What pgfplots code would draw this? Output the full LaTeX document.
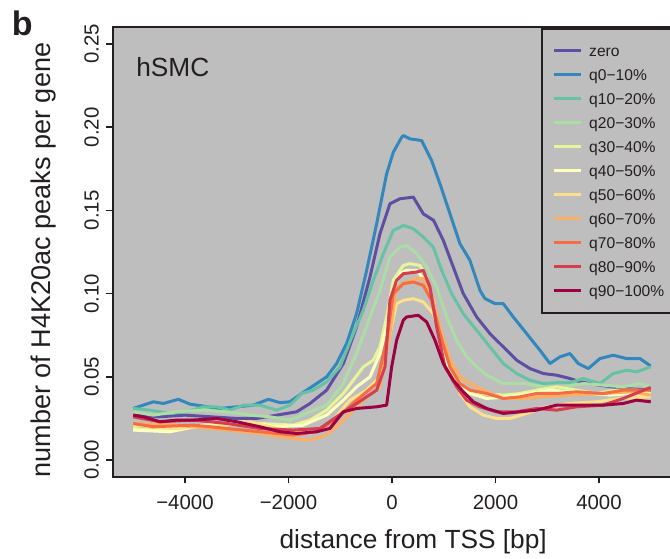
\documentclass[border=0pt]{standalone}
\usepackage{fontspec}
\setmainfont{Liberation Sans}
\usepackage{pgfplots}
\pgfplotsset{compat=1.18}
\definecolor{bg}{HTML}{BEBEBE}
\definecolor{ink}{HTML}{231F20}
\definecolor{s1}{HTML}{5E4FA2}
\definecolor{s2}{HTML}{3288BD}
\definecolor{s3}{HTML}{66C2A5}
\definecolor{s4}{HTML}{ABDDA4}
\definecolor{s5}{HTML}{E6F598}
\definecolor{s6}{HTML}{FFFFBF}
\definecolor{s7}{HTML}{FEE08B}
\definecolor{s8}{HTML}{FDAE61}
\definecolor{s9}{HTML}{F46D43}
\definecolor{s10}{HTML}{D53E4F}
\definecolor{s11}{HTML}{9E0142}
\begin{document}
\begin{tikzpicture}
\begin{axis}[
  at={(0pt,0pt)}, anchor=south west,
  scale only axis, width=419.2pt, height=337pt,
  xmin=-5400, xmax=5400, ymin=-0.01, ymax=0.26,
  axis background/.style={fill=bg},
  axis line style={line width=1.5pt, draw=ink},
  tick align=outside, xtick pos=bottom, ytick pos=left,
  major tick length=5pt,
  tick style={line width=1.2pt, draw=ink},
  xtick={-4000,-2000,0,2000,4000},
  xticklabels={−4000,−2000,0,2000,4000},
  ytick={0,0.05,0.1,0.15,0.2,0.25},
  yticklabels={0.00,0.05,0.10,0.15,0.20,0.25},
  ticklabel style={font=\fontsize{15.3}{16}\selectfont, text=ink, inner sep=0pt},
  xticklabel style={anchor=base},
  yticklabel style={rotate=90, anchor=base},
  xticklabel shift=19.5pt, yticklabel shift=5.5pt,
  xlabel={distance from TSS [bp]},
  ylabel={number of H4K20ac peaks per gene},
  label style={text=ink, inner sep=0pt},
  xlabel style={font=\fontsize{19.7}{20}\selectfont, at={(axis description cs:0.538,-0.1596)}, anchor=base},
  ylabel style={font=\fontsize{20.3}{21}\selectfont, at={(axis description cs:-0.1118,0.482)}, anchor=base},
  legend style={at={(axis description cs:0.7665,0.9985)}, anchor=north west,
    fill=bg, draw=ink, line width=1.5pt, inner xsep=8.25pt, inner ysep=10.4pt,
    row sep=6pt, column sep=5pt, font=\fontsize{11.7}{12}\selectfont, text=ink,
    nodes={inner sep=0pt, text height=10pt, text depth=2pt}},
  legend cell align=left,
  legend image code/.code={\draw[#1, line width=2.25pt] (0pt,0pt) -- (20pt,0pt);},
  every axis plot/.append style={line width=2.25pt, line join=round, mark=none},
]
\addplot[s1] coordinates {(-5000,0.027) (-4500,0.026) (-4000,0.027) (-3500,0.026) (-3000,0.025) (-2615,0.025) (-2228,0.027) (-1842,0.029) (-1584,0.034) (-1262,0.042) (-940,0.058) (-683,0.080) (-425,0.110) (-232,0.136) (-39,0.154) (155,0.157) (412,0.158) (605,0.148) (805,0.144) (992,0.132) (1185,0.116) (1378,0.100) (1636,0.086) (1893,0.076) (2151,0.068) (2409,0.060) (2666,0.055) (2924,0.052) (3181,0.051) (3439,0.049) (3632,0.047) (4000,0.045) (4500,0.043) (5000,0.042)};
\addlegendentry{zero}
\addplot[s2] coordinates {(-5000,0.031) (-4611,0.035) (-4418,0.034) (-4128,0.0365) (-3903,0.0336) (-3645,0.0324) (-3323,0.031) (-3001,0.032) (-2679,0.033) (-2389,0.0365) (-2164,0.0345) (-1971,0.035) (-1745,0.040) (-1455,0.046) (-1262,0.050) (-1069,0.058) (-876,0.070) (-683,0.088) (-489,0.114) (-296,0.142) (-103,0.172) (26,0.185) (187,0.194) (219,0.195) (348,0.193) (573,0.192) (766,0.180) (927,0.166) (1121,0.148) (1314,0.130) (1507,0.120) (1700,0.102) (1797,0.097) (1990,0.094) (2150,0.094) (2344,0.086) (2602,0.076) (2859,0.066) (3053,0.058) (3246,0.062) (3439,0.064) (3600,0.058) (3794,0.055) (4019,0.061) (4276,0.063) (4534,0.061) (4792,0.061) (5000,0.0565)};
\addlegendentry{q0−10\%}
\addplot[s3] coordinates {(-5000,0.031) (-4675,0.030) (-4289,0.028) (-3967,0.029) (-3645,0.032) (-3388,0.032) (-3130,0.030) (-2872,0.033) (-2550,0.033) (-2228,0.030) (-1971,0.033) (-1745,0.040) (-1520,0.042) (-1262,0.047) (-1005,0.056) (-747,0.076) (-554,0.090) (-361,0.108) (-167,0.124) (26,0.138) (219,0.141) (412,0.139) (605,0.134) (798,0.128) (960,0.114) (1153,0.100) (1378,0.088) (1636,0.078) (1893,0.068) (2151,0.058) (2409,0.052) (2666,0.048) (2924,0.046) (3181,0.0465) (3439,0.0465) (3697,0.049) (4019,0.046) (4276,0.052) (4534,0.054) (4727,0.053) (5000,0.056)};
\addlegendentry{q10−20\%}
\addplot[s4] coordinates {(-5000,0.029) (-4611,0.027) (-4160,0.029) (-3645,0.030) (-3194,0.029) (-2743,0.027) (-2357,0.026) (-1971,0.024) (-1584,0.029) (-1262,0.033) (-940,0.046) (-683,0.064) (-425,0.086) (-232,0.102) (-39,0.122) (155,0.128) (283,0.129) (477,0.124) (670,0.116) (863,0.104) (1056,0.086) (1249,0.072) (1443,0.062) (1636,0.056) (1829,0.051) (2151,0.046) (2537,0.046) (2924,0.044) (3310,0.044) (3697,0.046) (4083,0.045) (4469,0.044) (4792,0.046) (5000,0.044)};
\addlegendentry{q20−30\%}
\addplot[s5] coordinates {(-5000,0.019) (-4611,0.018) (-4000,0.020) (-3516,0.021) (-3000,0.022) (-2550,0.022) (-1906,0.021) (-1584,0.024) (-1262,0.030) (-940,0.040) (-554,0.056) (-361,0.060) (-232,0.068) (-103,0.086) (26,0.108) (219,0.117) (348,0.118) (541,0.117) (670,0.110) (831,0.088) (992,0.066) (1185,0.052) (1378,0.044) (1636,0.040) (2151,0.039) (2473,0.040) (2795,0.042) (3181,0.044) (3568,0.042) (3954,0.040) (4340,0.042) (4727,0.042) (5000,0.040)};
\addlegendentry{q30−40\%}
\addplot[s6] coordinates {(-5000,0.018) (-4289,0.017) (-3645,0.021) (-2872,0.023) (-2228,0.020) (-1713,0.021) (-1262,0.027) (-940,0.036) (-683,0.044) (-425,0.050) (-232,0.064) (-103,0.080) (26,0.102) (155,0.112) (283,0.114) (477,0.114) (638,0.108) (799,0.096) (960,0.068) (1121,0.052) (1314,0.044) (1507,0.040) (1829,0.037) (2280,0.038) (2666,0.040) (3053,0.042) (3439,0.041) (3826,0.040) (4212,0.039) (4598,0.040) (5000,0.039)};
\addlegendentry{q40−50\%}
\addplot[s7] coordinates {(-5000,0.021) (-4160,0.019) (-3194,0.021) (-2743,0.023) (-2228,0.019) (-1584,0.016) (-1198,0.022) (-811,0.036) (-489,0.042) (-232,0.050) (-39,0.076) (90,0.094) (219,0.096) (412,0.097) (605,0.095) (798,0.088) (960,0.072) (1121,0.056) (1314,0.040) (1507,0.032) (1765,0.027) (2022,0.025) (2280,0.025) (2602,0.028) (2988,0.032) (3439,0.034) (3954,0.035) (4405,0.037) (5000,0.038)};
\addlegendentry{q50−60\%}
\addplot[s8] coordinates {(-5000,0.022) (-4160,0.021) (-3194,0.018) (-2550,0.016) (-1971,0.013) (-1584,0.012) (-1262,0.015) (-940,0.024) (-554,0.036) (-232,0.044) (-39,0.076) (90,0.104) (283,0.107) (477,0.109) (605,0.109) (766,0.100) (927,0.080) (1121,0.060) (1314,0.050) (1507,0.046) (1765,0.042) (2151,0.037) (2537,0.037) (2924,0.038) (3439,0.039) (4083,0.040) (4598,0.041) (5000,0.039)};
\addlegendentry{q60−70\%}
\addplot[s9] coordinates {(-5000,0.022) (-4611,0.020) (-3838,0.021) (-3194,0.019) (-2550,0.017) (-1906,0.015) (-1455,0.017) (-1069,0.025) (-683,0.036) (-296,0.046) (-103,0.072) (26,0.100) (219,0.106) (412,0.107) (605,0.105) (766,0.096) (927,0.076) (1121,0.056) (1314,0.046) (1507,0.042) (1829,0.040) (2151,0.037) (2473,0.038) (2795,0.040) (3181,0.040) (3568,0.041) (4083,0.040) (4469,0.042) (5000,0.042)};
\addlegendentry{q70−80\%}
\addplot[s10] coordinates {(-5000,0.026) (-4482,0.023) (-3838,0.024) (-3194,0.022) (-2550,0.019) (-1906,0.018) (-1391,0.019) (-1069,0.026) (-683,0.034) (-296,0.042) (-135,0.056) (-39,0.096) (90,0.108) (219,0.112) (477,0.113) (605,0.114) (734,0.104) (863,0.080) (1024,0.056) (1249,0.044) (1443,0.036) (1700,0.032) (2022,0.029) (2409,0.029) (2795,0.031) (3181,0.030) (3568,0.032) (4083,0.033) (4469,0.037) (5000,0.0437)};
\addlegendentry{q80−90\%}
\addplot[s11] coordinates {(-5000,0.027) (-4804,0.026) (-4482,0.023) (-4160,0.024) (-3838,0.024) (-3387,0.025) (-3001,0.023) (-2550,0.020) (-2164,0.017) (-1842,0.016) (-1455,0.017) (-1198,0.019) (-940,0.029) (-683,0.031) (-296,0.032) (-103,0.033) (-6,0.056) (90,0.072) (219,0.084) (283,0.086) (509,0.087) (670,0.083) (831,0.072) (992,0.058) (1185,0.048) (1378,0.041) (1571,0.035) (1829,0.031) (2151,0.028) (2473,0.029) (2795,0.030) (3181,0.033) (3568,0.033) (4083,0.033) (4469,0.034) (4727,0.036) (5000,0.035)};
\addlegendentry{q90−100\%\hspace*{20pt}}
\end{axis}
\node[anchor=base west, inner sep=0pt, text=ink, font=\fontsize{19.7}{20}\selectfont] at (17.6pt,299.9pt) {hSMC};
\node[anchor=base west, inner sep=0pt, text=ink, font=\fontsize{25.5}{26}\selectfont\bfseries] at (-75.6pt,331.2pt) {b};
\pgfresetboundingbox
\useasboundingbox (-84.4pt,-61.05pt) rectangle (418.15pt,357.55pt);
\end{tikzpicture}
\end{document}
